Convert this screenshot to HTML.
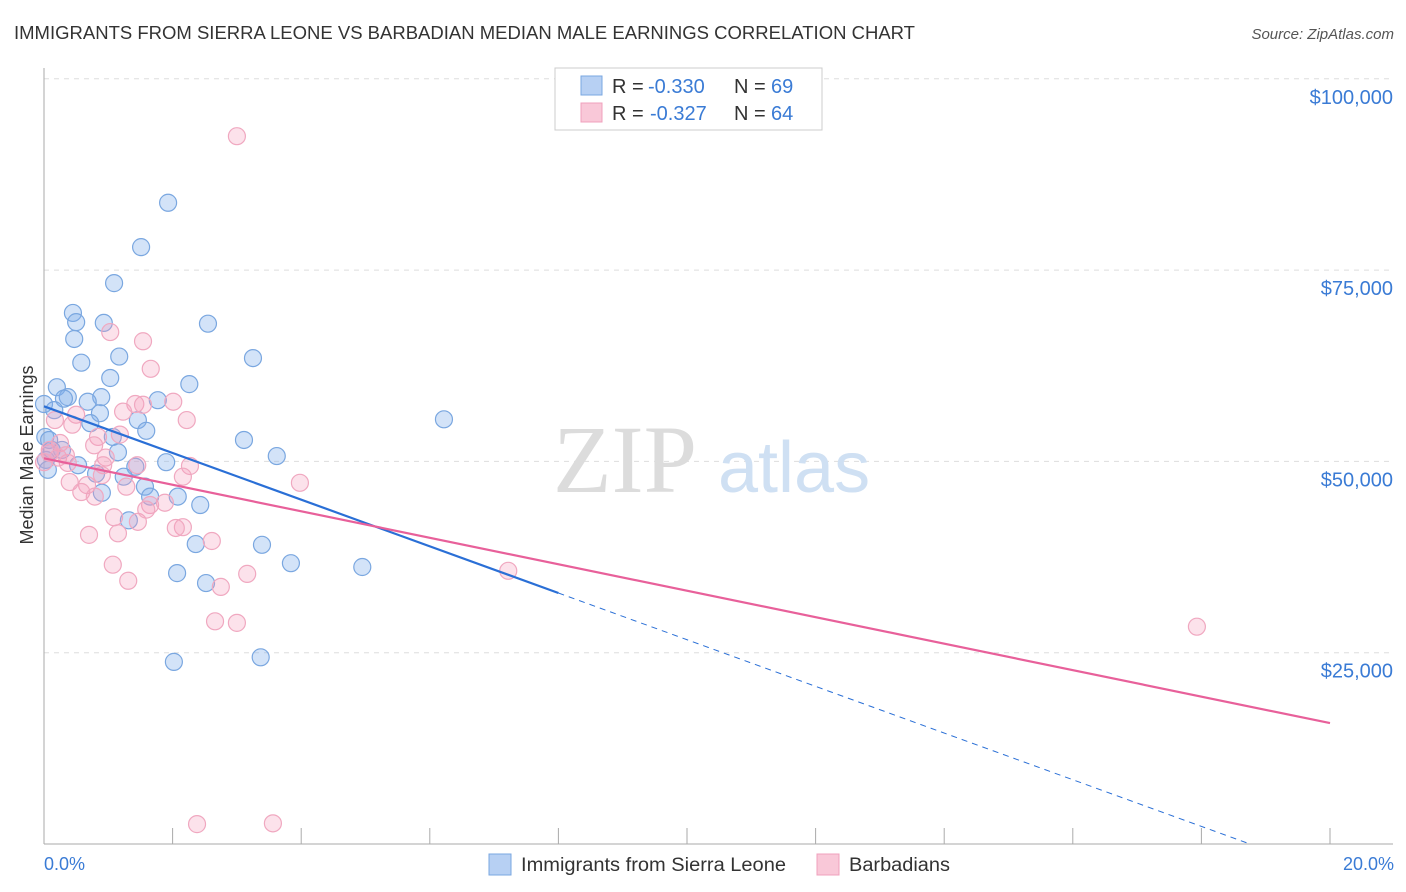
<!DOCTYPE html>
<html><head><meta charset="utf-8"><style>
body{margin:0;background:#fff;font-family:"Liberation Sans",sans-serif;}
svg{display:block}
</style></head><body>
<svg id="chart" width="1406" height="892" xmlns="http://www.w3.org/2000/svg">
<text x="14" y="39" font-size="18" fill="#333" textLength="901" lengthAdjust="spacingAndGlyphs">IMMIGRANTS FROM SIERRA LEONE VS BARBADIAN MEDIAN MALE EARNINGS CORRELATION CHART</text>
<text x="1394" y="39" font-size="15" fill="#555" font-style="italic" text-anchor="end">Source: ZipAtlas.com</text>
<g id="grid"></g>
<g>
<text x="553" y="492" font-size="96" font-family="Liberation Serif,serif" fill="#dcdcdc">ZIP</text>
<text x="718" y="492" font-size="72" fill="#cfe0f3">atlas</text>
</g>
<g id="pts"></g>
<g id="lines"></g>
<text x="33" y="455" font-size="18" fill="#333" text-anchor="middle" transform="rotate(-90 33 455)">Median Male Earnings</text>
<text x="44" y="870" font-size="18" fill="#3a7bd5">0.0%</text>
<text x="1394" y="870" font-size="18" fill="#3a7bd5" text-anchor="end">20.0%</text>
<g>
<rect x="555" y="68" width="267" height="62" fill="#fff" stroke="#ccc"/>
<rect x="581" y="76" width="21" height="19" fill="#b7d0f3" stroke="#7aa7e0"/>
<text x="612" y="93" font-size="20" fill="#333">R =</text>
<text x="648" y="93" font-size="20" fill="#3a7bd5">-0.330</text>
<text x="734" y="93" font-size="20" fill="#333">N =</text>
<text x="771" y="93" font-size="20" fill="#3a7bd5">69</text>
<rect x="581" y="103" width="21" height="19" fill="#f9c8d8" stroke="#f0a0bc"/>
<text x="612" y="120" font-size="20" fill="#333">R =</text>
<text x="650" y="120" font-size="20" fill="#3a7bd5">-0.327</text>
<text x="734" y="120" font-size="20" fill="#333">N =</text>
<text x="771" y="120" font-size="20" fill="#3a7bd5">64</text>
</g>
<g>
<rect x="489" y="854" width="22" height="21" fill="#b7d0f3" stroke="#7aa7e0"/>
<text x="521" y="871" font-size="19" fill="#333" textLength="265" lengthAdjust="spacingAndGlyphs">Immigrants from Sierra Leone</text>
<rect x="817" y="854" width="22" height="21" fill="#f9c8d8" stroke="#f0a0bc"/>
<text x="849" y="871" font-size="19" fill="#333" textLength="101" lengthAdjust="spacingAndGlyphs">Barbadians</text>
</g>
</svg>
<script>
const yTicks=[25000,50000,75000,100000];
const yTickLabels=["$25,000","$50,000","$75,000","$100,000"];
const xTicks=[0,2,4,6,8,10,12,14,16,18,20];
const blueX=[1.93,1.51,1.09,0.45,0.50,0.93,2.55,0.47,1.17,3.25,0.58,1.03,2.26,0.20,0.89,0.37,0.31,1.77,0.68,0.0,0.16,0.87,6.22,1.46,0.72,1.59,1.07,3.11,3.62,0.02,0.08,1.15,0.28,1.90,0.03,1.42,0.81,1.24,1.57,0.90,1.65,2.08,2.43,1.32,2.36,3.39,3.84,4.95,2.07,2.52,2.02,3.37,0.06,0.12,0.53];
const blueY=[83.8,78.0,73.3,69.4,68.2,68.1,68.0,66.0,63.7,63.5,62.9,60.9,60.1,59.7,58.4,58.4,58.2,58.0,57.8,57.5,56.7,56.3,55.5,55.4,55.0,54.0,53.2,52.8,50.7,53.2,52.8,51.2,51.5,49.9,50.2,49.3,48.4,48.0,46.7,45.9,45.4,45.4,44.3,42.3,39.2,39.1,36.7,36.2,35.4,34.1,23.8,24.4,48.9,51.5,49.5];
const pinkX=[3.0,1.03,1.54,1.66,1.42,2.01,1.54,2.22,1.23,0.50,0.17,0.44,1.18,0.84,0.25,0.78,0.09,0.96,2.27,0,0.37,0.92,1.45,3.98,0.40,0.67,1.28,2.16,0.58,0.79,1.65,1.09,1.46,2.16,0.70,1.15,2.61,1.07,1.31,3.16,2.75,2.66,3.0,7.22,17.93,2.38,3.56,0.09,0.22,0.34,1.88,2.05,1.59,0.90];
const pinkY=[92.5,66.9,65.7,62.1,57.5,57.8,57.4,55.4,56.5,56.1,55.4,54.8,53.5,53.2,52.4,52.1,51.1,50.5,49.4,49.9,49.8,49.5,49.5,47.2,47.3,46.9,46.7,48.0,46.0,45.4,44.3,42.7,42.1,41.4,40.4,40.6,39.6,36.5,34.4,35.3,33.6,29.1,28.9,35.7,28.4,2.6,2.7,51.5,50.5,50.8,44.6,41.3,43.7,48.2];
const blueTrend=[57.2,-3.05];
const pinkTrend=[50.4,-1.73];
const X=v=>44+v*64.3, Y=v=>844-v*191.3/25;
const ns="http://www.w3.org/2000/svg";
function mk(t,a,p){const e=document.createElementNS(ns,t);for(const k in a)e.setAttribute(k,a[k]);p.appendChild(e);return e;}
const g=document.getElementById('grid');
yTicks.forEach((t,i)=>{
const l=mk('line',{x1:44,x2:1393,y1:Y(t/1000),y2:Y(t/1000),stroke:'#ddd','stroke-dasharray':'5,5'},g);


const tx=mk('text',{x:1393,y:Y(t/1000)+25,'font-size':20,fill:'#3a7bd5','text-anchor':'end'},g);
tx.textContent=yTickLabels[i];


});
const ax=mk('line',{x1:44,x2:1393,y1:844,y2:844,stroke:'#aaa'},g);


const ay=mk('line',{x1:44,x2:44,y1:68,y2:844,stroke:'#aaa'},g);


xTicks.forEach(t=>{const l=mk('line',{x1:X(t),x2:X(t),y1:828,y2:844,stroke:'#aaa'},g);

});
const p=document.getElementById('pts');
blueX.forEach((x,i)=>{const c=mk('circle',{cx:X(x),cy:Y(blueY[i]),r:8.5,fill:'rgba(130,175,235,0.35)',stroke:'#7aa7e0','stroke-width':1.2},p);

});
pinkX.forEach((x,i)=>{const c=mk('circle',{cx:X(x),cy:Y(pinkY[i]),r:8.5,fill:'rgba(245,160,190,0.3)',stroke:'#f0a8c0','stroke-width':1.2},p);

});
const L=document.getElementById('lines');
const f=(tr,x)=>tr[0]+tr[1]*x;
const b1=mk('line',{x1:X(0),y1:Y(f(blueTrend,0)),x2:X(8),y2:Y(f(blueTrend,8)),stroke:'#2a6fd6','stroke-width':2.2},L);


const xe=-blueTrend[0]/blueTrend[1];
const b2=mk('line',{x1:X(8),y1:Y(f(blueTrend,8)),x2:X(xe),y2:Y(0),stroke:'#2a6fd6','stroke-width':1,'stroke-dasharray':'6,5'},L);


const p1=mk('line',{x1:X(0),y1:Y(f(pinkTrend,0)),x2:X(20),y2:Y(f(pinkTrend,20)),stroke:'#e8609a','stroke-width':2.2},L);


</script>
</body></html>
